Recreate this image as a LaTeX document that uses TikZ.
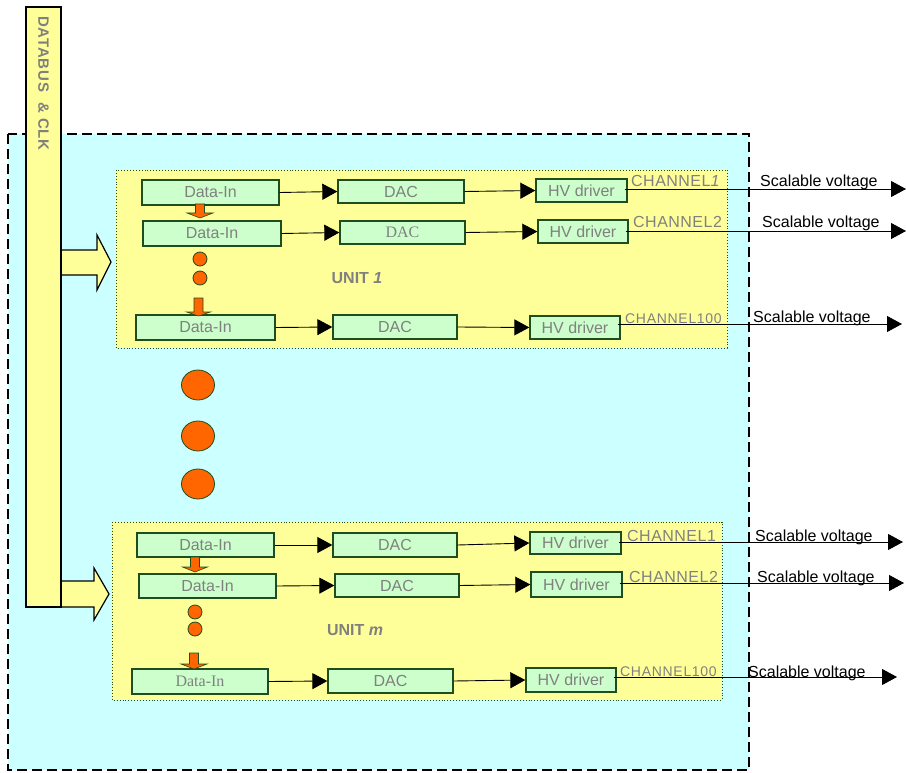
\documentclass[tikz,border=0pt]{standalone}
\usepackage{fontspec}
\setmainfont{Liberation Sans}
\newfontfamily\serifft{Liberation Serif}
\usetikzlibrary{arrows.meta}
\definecolor{cyanbg}{HTML}{CCFFFF}
\definecolor{yel}{HTML}{FFFF99}
\definecolor{boxfill}{HTML}{CCFFCC}
\definecolor{boxdraw}{HTML}{1E4D1E}
\definecolor{orng}{HTML}{FF6600}
\definecolor{txtgray}{HTML}{808080}
\newcommand{\bx}[6]{\node[blk, minimum width={#4-#2}, minimum height={#5-#3}] (#1) at ({(#2+#4)/2},{(#3+#5)/2}) {#6};}
\newcommand{\orarr}[6]{\filldraw[orarrow] ({#1-4.5},#2) -- ({#1+4.5},#2) -- ({#1+4.5},#3) -- ({#1+#5},#3) -- (#1,#4) -- ({#1-#6},#3) -- ({#1-4.5},#3) -- cycle;}
\begin{document}
\begin{tikzpicture}[x=1pt,y=-1pt,
  blk/.style={draw=boxdraw, fill=boxfill, line width=1.3pt, inner sep=0pt, text=txtgray, font=\fontsize{16}{19}\selectfont},
  arr/.style={-{Triangle[length=15pt,width=16pt]}, line width=0.9pt},
  orarrow/.style={fill=orng, draw=boxdraw, line width=0.6pt},
  odot/.style={fill=orng, draw=boxdraw, line width=0.8pt},
  unitbox/.style={fill=yel, draw=boxdraw, dotted, line width=0.9pt},
  chlab/.style={anchor=base west, inner sep=0pt, text=txtgray, font=\fontsize{16}{19}\selectfont\addfontfeatures{LetterSpace=3}},
  chlabs/.style={anchor=base west, inner sep=0pt, text=txtgray, font=\fontsize{14}{17}\selectfont\addfontfeatures{LetterSpace=5}},
  svlab/.style={anchor=base west, inner sep=0pt, font=\fontsize{16}{19}\selectfont},
  unitlab/.style={text=txtgray, font=\bfseries\fontsize{16}{19}\selectfont},
  blockarrow/.style={fill=yel, draw=black, line width=1.2pt}
]
\useasboundingbox (0,0) rectangle (906,773);
% outer dashed box
\draw[fill=cyanbg, dash pattern=on 10pt off 5pt, line width=1.8pt] (8,134) rectangle (749,770);
% unit boxes
\draw[unitbox] (116,170) rectangle (727,348);
\draw[unitbox] (112,522) rectangle (722,700);
% databus block arrows
\filldraw[blockarrow] (61,250) -- (97,250) -- (97,235) -- (111,262) -- (97,290) -- (97,275) -- (61,275) -- cycle;
\filldraw[blockarrow] (61,581) -- (94,581) -- (94,568) -- (109,594) -- (94,620) -- (94,607) -- (61,607) -- cycle;
% databus bar
\node[draw=black, fill=yel, line width=1.2pt, minimum width=35pt, minimum height=600pt, inner sep=0pt] (bus) at (43.5,307) {};
\node[rotate=-90, text=txtgray, font=\bfseries\fontsize{15}{18}\selectfont\addfontfeatures{LetterSpace=5.5}, anchor=west, inner sep=0pt] (buslab) at (43.5,16) {DATABUS\ \ \& CLK};
% unit 1
\bx{d11}{142}{180}{279}{205}{Data-In}
\bx{c11}{338}{180}{464}{203}{DAC}
\bx{h11}{536}{179}{627}{202}{HV driver}
\bx{d12}{143}{221}{281}{246}{Data-In}
\bx{c12}{340}{221}{465}{244}{\serifft DAC}
\bx{h12}{538}{220}{628}{243}{HV driver}
\bx{d13}{136}{315}{275}{340}{Data-In}
\bx{c13}{333}{315}{457}{339}{DAC}
\bx{h13}{530}{316}{620}{339}{HV driver}
\node[unitlab] (u1) at (357,278) {UNIT \textit{1}};
% unit m
\bx{d21}{137}{533}{274}{557}{Data-In}
\bx{c21}{333}{533}{457}{557}{DAC}
\bx{h21}{530}{532}{621}{554}{HV driver}
\bx{d22}{139}{574}{276}{598}{Data-In}
\bx{c22}{335}{574}{459}{597}{DAC}
\bx{h22}{531}{572}{622}{597}{HV driver}
\bx{d23}{132}{669}{268}{694}{\serifft Data-In}
\bx{c23}{328}{669}{453}{693}{DAC}
\bx{h23}{526}{668}{616}{692}{HV driver}
\node[unitlab] (um) at (355,630) {UNIT \textit{m}};
% orange arrows
\orarr{200}{204}{213}{218}{13}{13}
\orarr{198.5}{298}{312}{316}{12}{12}
\orarr{195}{557}{567}{572}{12.5}{12.5}
\orarr{194}{653}{664}{669}{13}{13}
% orange dots
\filldraw[odot] (200,259) circle (7);
\filldraw[odot] (200,278) circle (7);
\filldraw[odot] (195,612) circle (7);
\filldraw[odot] (195,629) circle (7);
\filldraw[odot] (198,385) ellipse (16.5 and 15);
\filldraw[odot] (198,436) ellipse (16.5 and 15);
\filldraw[odot] (198,484) ellipse (16.5 and 15);
% internal arrows
\foreach \u in {1,2}{
  \foreach \r in {1,2,3}{
    \draw[arr] (d\u\r.east) -- (c\u\r.west);
    \draw[arr] (c\u\r.east) -- (h\u\r.west);
  }
}
% outputs
\coordinate (o11) at (906,189);
\coordinate (o12) at (906,231);
\coordinate (o13) at (902,324);
\coordinate (o21) at (903,542);
\coordinate (o22) at (904,583);
\coordinate (o23) at (897,677);
\foreach \n in {11,12,13,21,22,23}{
  \draw[arr] ([xshift=-3pt]h\n.east |- o\n) -- (o\n);
}
% channel labels
\node[chlab] (ch11) at (631,187) {CHANNEL\textit{1}};
\node[chlab] (ch12) at (633,228) {CHANNEL2};
\node[chlabs] (ch13) at (625,323) {CHANNEL100};
\node[chlab] (ch21) at (627,541) {CHANNEL1};
\node[chlab] (ch22) at (629,582) {CHANNEL2};
\node[chlabs] (ch23) at (620,676) {CHANNEL100};
% scalable voltage labels
\node[svlab] (s11) at (760,187) {Scalable voltage};
\node[svlab] (s12) at (762,228) {Scalable voltage};
\node[svlab] (s13) at (753,322) {Scalable voltage};
\node[svlab] (s21) at (755,541) {Scalable voltage};
\node[svlab] (s22) at (757,582) {Scalable voltage};
\node[svlab] (s23) at (748,677) {Scalable voltage};
\end{tikzpicture}
\end{document}
